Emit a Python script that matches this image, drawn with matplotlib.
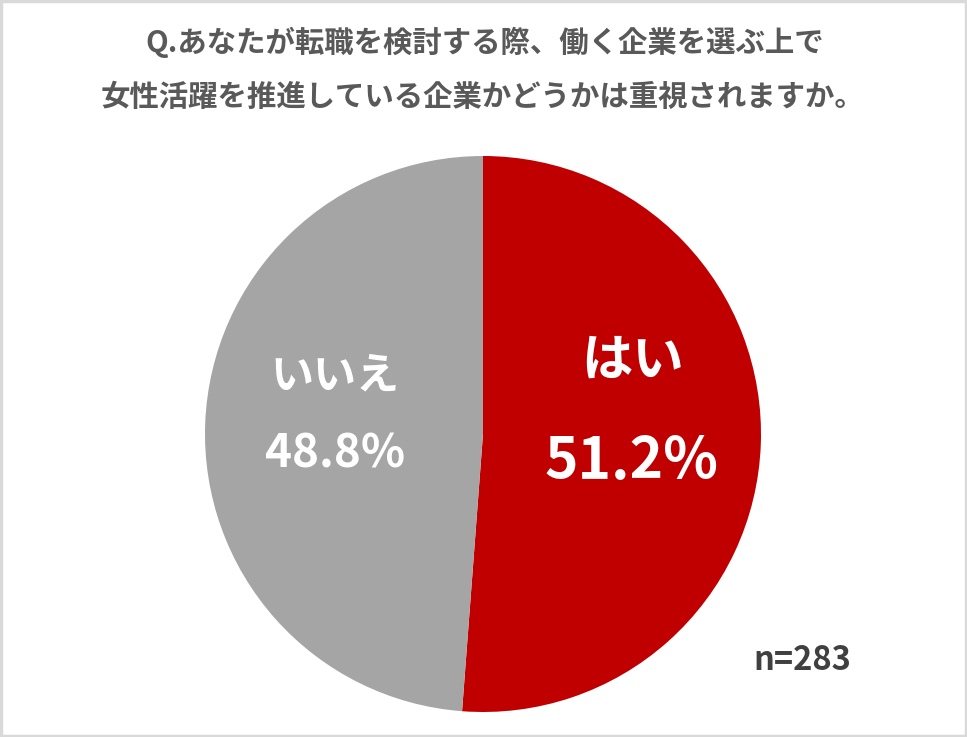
import matplotlib
matplotlib.use("Agg")
import matplotlib.pyplot as plt
from matplotlib.patches import Rectangle

plt.rcParams['font.family'] = ['Noto Sans CJK JP', 'DejaVu Sans']

title_lines = ["Q.あなたが転職を検討する際、働く企業を選ぶ上で",
               "女性活躍を推進している企業かどうかは重視されますか。"]
categories = ["はい", "いいえ"]
values = [51.2, 48.8]
colors = ["#C00000", "#A5A5A5"]
n_label = "n=283"

W, H = 967, 737
fig = plt.figure(figsize=(W / 100, H / 100), dpi=100)
fig.patch.set_facecolor("white")

cx, cy, r = 483, 434, 278
ax = fig.add_axes([(cx - r) / W, (H - cy - r) / H, 2 * r / W, 2 * r / H])
ax.pie(values, colors=colors, startangle=90, counterclock=False, radius=1,
       wedgeprops=dict(linewidth=0))
ax.set_xlim(-1, 1)
ax.set_ylim(-1, 1)
ax.axis("off")

def fx(px):
    return px / W

def fy(py):
    return 1 - py / H

fig.text(fx(485), fy(42), title_lines[0], ha="center", va="center",
         fontsize=21.2, fontweight="bold", color="#595959")
fig.text(fx(483), fy(97), title_lines[1], ha="center", va="center",
         fontsize=21.2, fontweight="bold", color="#595959")

fig.text(fx(633), fy(360), categories[0], ha="center", va="center",
         fontsize=37, fontweight="bold", color="white")
fig.text(fx(632), fy(462), f"{values[0]:.1f}%", ha="center", va="center",
         fontsize=41, fontweight="bold", color="white")
fig.text(fx(335), fy(375), categories[1], ha="center", va="center",
         fontsize=31, fontweight="bold", color="white")
fig.text(fx(335), fy(455), f"{values[1]:.1f}%", ha="center", va="center",
         fontsize=33, fontweight="bold", color="white")

fig.text(fx(802), fy(660), n_label, ha="center", va="center",
         fontsize=23.5, fontweight="bold", color="#404040")

fig.patches.append(Rectangle((0.0015, 0.002), 0.997, 0.996, transform=fig.transFigure,
                             fill=False, edgecolor="#D9D9D9", linewidth=2.5))

fig.savefig("out.png", dpi=100, facecolor="white")
